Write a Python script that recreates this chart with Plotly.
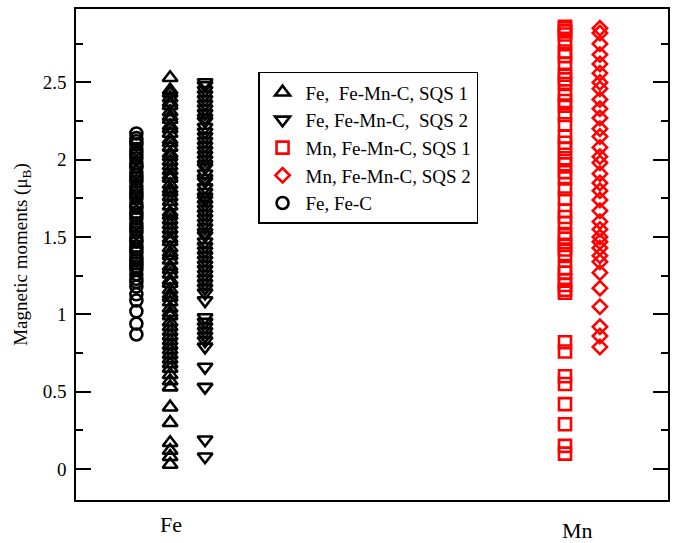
import plotly.graph_objects as go

# ---- data (magnetic moments, mu_B) ----
fe_sqs1 = [2.53, 2.45, 2.43, 2.40, 2.37, 2.35, 2.31, 2.28, 2.26, 2.22, 2.20, 2.17, 2.13, 2.11,
           2.08, 2.04, 2.02, 1.99, 1.96, 1.93, 1.90, 1.88, 1.84, 1.81, 1.79, 1.76, 1.73, 1.70,
           1.66, 1.64, 1.61, 1.58, 1.55, 1.52, 1.49, 1.47, 1.43, 1.40, 1.38, 1.35, 1.31, 1.29,
           1.26, 1.22, 1.20, 1.16, 1.13, 1.11, 1.08, 1.04, 1.01, 0.99, 0.95, 0.92, 0.89, 0.86,
           0.83, 0.80, 0.77, 0.74, 0.71, 0.68, 0.65, 0.61, 0.57, 0.53, 0.40, 0.30, 0.17, 0.12,
           0.08, 0.03]
fe_sqs2 = [2.50, 2.48, 2.45, 2.42, 2.39, 2.36, 2.33, 2.30, 2.27, 2.25, 2.21, 2.18, 2.15, 2.12,
           2.09, 2.06, 2.03, 2.00, 1.97, 1.95, 1.91, 1.88, 1.86, 1.82, 1.79, 1.76, 1.74, 1.71,
           1.68, 1.65, 1.62, 1.59, 1.56, 1.53, 1.51, 1.47, 1.44, 1.41, 1.38, 1.35, 1.32, 1.29,
           1.26, 1.23, 1.20, 1.17, 1.14, 1.09, 0.98, 0.95, 0.92, 0.89, 0.86, 0.83, 0.79, 0.66,
           0.53, 0.19, 0.08]
mn_sqs1 = [2.86, 2.85, 2.83, 2.81, 2.76, 2.70, 2.67, 2.62, 2.55, 2.52, 2.49, 2.42, 2.38, 2.35,
           2.29, 2.23, 2.15, 2.11, 2.07, 2.01, 1.97, 1.92, 1.88, 1.81, 1.75, 1.67, 1.63, 1.59,
           1.52, 1.49, 1.45, 1.42, 1.39, 1.30, 1.27, 1.22, 1.19, 1.16, 1.14, 0.82, 0.76, 0.60,
           0.55, 0.42, 0.29, 0.15, 0.10]
mn_sqs2 = [2.85, 2.82, 2.75, 2.68, 2.62, 2.56, 2.50, 2.46, 2.39, 2.33, 2.27, 2.20, 2.15, 2.08,
           2.02, 1.98, 1.91, 1.85, 1.80, 1.74, 1.67, 1.60, 1.55, 1.50, 1.47, 1.43, 1.38, 1.34,
           1.27, 1.17, 1.05, 0.92, 0.86, 0.79]
fe_c = [2.17, 2.14, 2.12, 2.10, 2.07, 2.05, 2.03, 2.01, 1.98, 1.96, 1.95, 1.92, 1.90, 1.88,
        1.86, 1.83, 1.81, 1.79, 1.77, 1.75, 1.72, 1.70, 1.69, 1.66, 1.64, 1.62, 1.59, 1.57,
        1.55, 1.53, 1.50, 1.48, 1.47, 1.44, 1.42, 1.40, 1.37, 1.35, 1.33, 1.31, 1.29, 1.26,
        1.23, 1.21, 1.18, 1.13, 1.09, 1.02, 0.94, 0.87]

series_names = ["Fe,\u00a0 Fe-Mn-C, SQS 1", "Fe, Fe-Mn-C,\u00a0 SQS 2",
                "Mn, Fe-Mn-C, SQS 1", "Mn, Fe-Mn-C, SQS 2", "Fe, Fe-C"]
category_labels = ["Fe", "Mn"]
y_tick_values = [0, 0.5, 1, 1.5, 2, 2.5]
y_tick_text = ["0", "0.5", "1", "1.5", "2", "2.5"]

# column positions (x axis is 0..1 across plot area)
x_cols = [0.159, 0.218, 0.826, 0.885, 0.102]
symbols = ["triangle-up-open", "triangle-down-open", "square-open", "diamond-open", "circle-open"]
colors = ["black", "black", "#ff0000", "#ff0000", "black"]
sizes = [13, 13, 12, 11, 12]
datasets = [fe_sqs1, fe_sqs2, mn_sqs1, mn_sqs2, fe_c]

SERIF = "Liberation Serif, Times New Roman, serif"

fig = go.Figure()
for i, (vals, name) in enumerate(zip(datasets, series_names)):
    fig.add_trace(go.Scatter(
        x=[x_cols[i]] * len(vals), y=vals, mode="markers", name=name,
        legendgroup=f"g{i}",
        marker=dict(symbol=symbols[i], size=sizes[i], color=colors[i],
                    line=dict(color=colors[i], width=2.6)),
    ))

fig.update_layout(
    width=677, height=543,
    margin=dict(l=76, r=8, t=7, b=43),
    paper_bgcolor="white", plot_bgcolor="white",
    font=dict(family=SERIF, color="black"),
    showlegend=True,
    legend=dict(x=0.3075, y=0.872, xanchor="left", yanchor="top",
                bgcolor="white", bordercolor="black", borderwidth=1.5,
                font=dict(family=SERIF, size=19, color="black"),
                itemwidth=36,
                traceorder="grouped", tracegroupgap=0),
    xaxis=dict(range=[0, 1], showline=True, linecolor="black", linewidth=1.5,
               mirror=True, showgrid=False, zeroline=False, ticks="",
               showticklabels=False),
    yaxis=dict(range=[-0.2, 2.975], showline=True, linecolor="black", linewidth=1.5,
               mirror="ticks", showgrid=False, zeroline=False,
               ticks="inside", ticklen=15, tickwidth=1.5, tickcolor="black",
               tickvals=y_tick_values, ticktext=y_tick_text,
               tickfont=dict(family=SERIF, size=19, color="black"),
               ticklabelstandoff=4,
               minor=dict(dtick=0.25, tick0=0, ticks="inside", ticklen=7,
                          tickwidth=1.5, tickcolor="black", showgrid=False),
               title=dict(text="Magnetic moments (μ<sub>B</sub>)",
                          font=dict(family=SERIF, size=19, color="black"),
                          standoff=10)),
)

label_pos = [(0.161, -0.05), (0.847, -0.062)]
for lab, (xp, yp) in zip(category_labels, label_pos):
    fig.add_annotation(text=lab, x=xp, y=yp, xref="paper", yref="paper",
                       showarrow=False, xanchor="center", yanchor="middle",
                       font=dict(family=SERIF, size=22, color="black"))

fig.write_html("out.html")
